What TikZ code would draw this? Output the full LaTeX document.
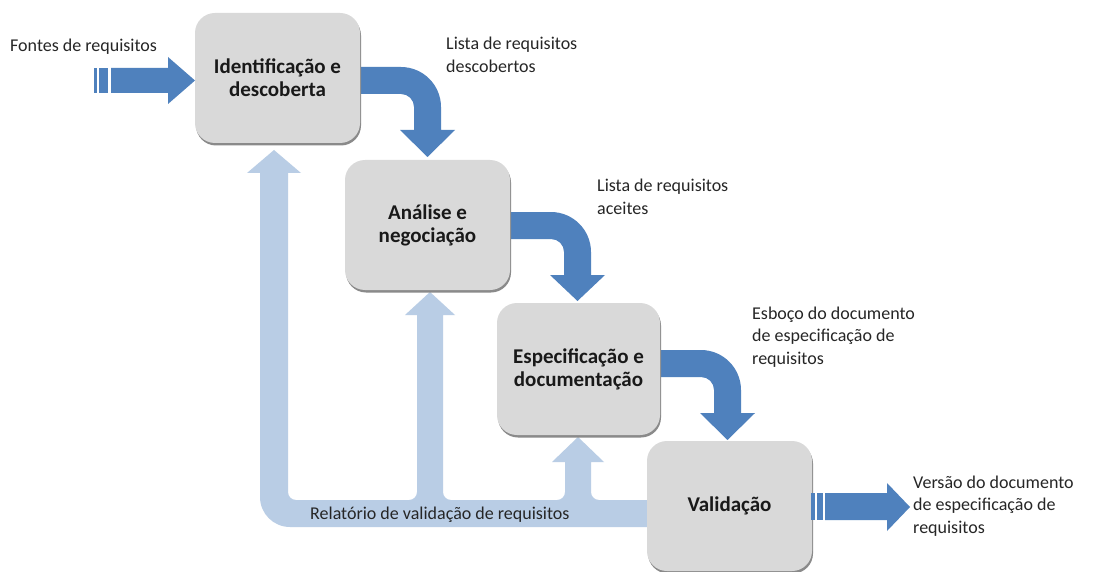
\documentclass[tikz,border=0pt]{standalone}
\usepackage{fontspec}
\setmainfont{Carlito}
\definecolor{darkblue}{HTML}{4F81BD}
\definecolor{lightblue}{HTML}{B9CDE5}
\definecolor{boxgray}{HTML}{D9D9D9}
\definecolor{shadowgray}{HTML}{8A8A8A}
\newcommand{\bentarrow}[5]{%
 \fill[darkblue] (#1,#2) -- ({#3-13},#2) .. controls ({#3+9},#2) and ({#3+27},{#2+18}) .. ({#3+27},{#2+40})
  -- ({#3+27},#4) -- ({#3+41},#4) -- ({#3+13.5},#5) -- ({#3-14},#4) -- (#3,#4) -- (#3,{#2+40})
  .. controls (#3,{#2+32.8}) and ({#3-5.8},{#2+27}) .. ({#3-13},{#2+27}) -- (#1,{#2+27}) -- cycle;}
\tikzset{
 box/.style={fill=boxgray, rounded corners=20pt, minimum width=165pt, minimum height=130pt,
   align=center, font=\fontsize{21}{23}\selectfont\bfseries, text=black!90, inner sep=0pt,
   preaction={fill=shadowgray, transform canvas={xshift=1pt,yshift=-2.5pt}}},
 lbl/.style={anchor=base west, align=left, font=\fontsize{18}{22.5}\selectfont, inner sep=0pt, text=black!85},
}
\begin{document}
\begin{tikzpicture}[x=1pt,y=-1pt]
\fill[white] (0,0) rectangle (1094,572);
\useasboundingbox (0,0) rectangle (1094,572);
% feedback arrows
\fill[lightblue] (655,527) -- (290,527) .. controls (273.4,527) and (260,513.6) .. (260,497)
 -- (260,173) -- (247,173) -- (274,150) -- (301,173) -- (288,173) -- (288,492)
 .. controls (288,496.4) and (291.6,500) .. (296,500) -- (409,500)
 .. controls (413.4,500) and (417,496.4) .. (417,492) -- (417,315) -- (405,315) -- (430,292)
 -- (455,315) -- (443,315) -- (443,492) .. controls (443,496.4) and (446.6,500) .. (451,500)
 -- (557,500) .. controls (561.4,500) and (565,496.4) .. (565,492) -- (565,462) -- (552,462)
 -- (578,437) -- (604,462) -- (591,462) -- (591,492) .. controls (591,496.4) and (594.6,500) .. (599,500)
 -- (655,500) -- cycle;
% forward bent arrows
\bentarrow{355}{67}{414}{130}{157}
\bentarrow{505}{212}{564}{275}{301}
\bentarrow{655}{350}{714}{413}{440}
% boxes
\node[box] (b1) at (277.5,78) {Identificação e\\descoberta};
\node[box] (b2) at (427.5,225) {Análise e\\negociação};
\node[box, minimum width=163pt, minimum height=132pt] (b3) at (578.5,369) {Especificação e\\documentação};
\node[box] (b4) at (729.5,506) {Validação};
% input arrow
\fill[darkblue] (94,68) rectangle (97,93);
\fill[darkblue] (99,68) rectangle (108,93);
\fill[darkblue] (111,68) -- (168,68) -- (168,57) -- (195,80.5) -- (168,104) -- (168,93) -- (111,93) -- cycle;
% output arrow
\fill[darkblue] (811,493) rectangle (815,520);
\fill[darkblue] (817,493) rectangle (823,520);
\fill[darkblue] (825,493) -- (887,493) -- (887,483) -- (910,507) -- (887,531) -- (887,520) -- (825,520) -- cycle;
% labels (anchor at baseline of last line)
\node[lbl] (l0) at (10,52) {Fontes de requisitos};
\node[lbl] (l1) at (446,72.5) {Lista de requisitos\\descobertos};
\node[lbl] (l2) at (597,214.5) {Lista de requisitos\\aceites};
\node[lbl] (l3) at (752,364) {Esboço do documento\\de especificação de\\requisitos};
\node[lbl] (l4) at (913,533) {Versão do documento\\de especificação de\\requisitos};
\node[lbl] (l5) at (310,519) {Relatório de validação de requisitos};
\end{tikzpicture}
\end{document}
